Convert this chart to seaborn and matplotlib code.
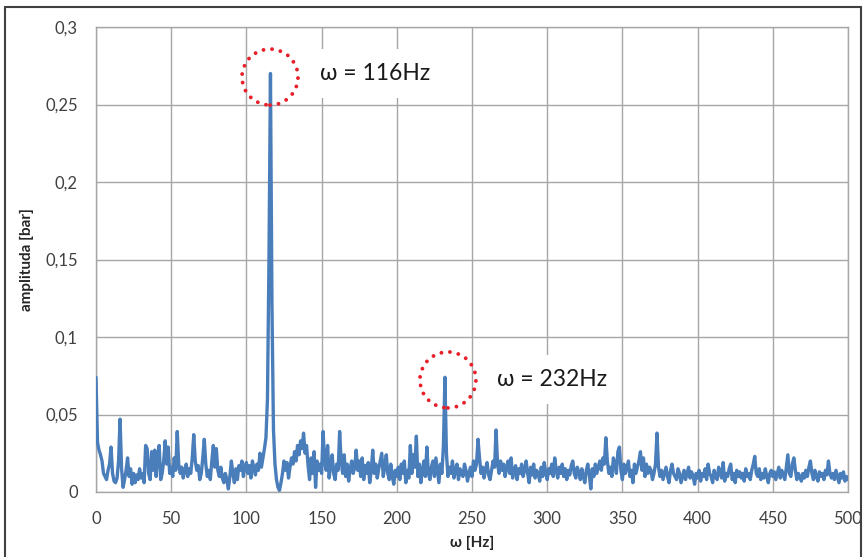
import numpy as np
import pandas as pd
import matplotlib
matplotlib.use("Agg")
import matplotlib.pyplot as plt
import seaborn as sns
from matplotlib.patches import Ellipse

# amplitude in thousandths of a bar, 1 Hz resolution, 0..500 Hz
amp_milli = [
    74, 32, 27, 24, 20, 12, 10, 8, 14, 18,
    29, 12, 7, 6, 9, 20, 47, 15, 3, 8,
    14, 22, 10, 15, 5, 12, 6, 11, 8, 15,
    9, 12, 6, 30, 28, 12, 8, 26, 14, 27,
    10, 24, 30, 8, 12, 20, 33, 18, 29, 12,
    16, 10, 22, 14, 39, 18, 12, 16, 9, 14,
    18, 10, 15, 12, 22, 37, 20, 14, 17, 8,
    12, 22, 34, 18, 10, 14, 8, 20, 30, 16,
    28, 14, 10, 16, 9, 6, 12, 8, 2, 10,
    20, 12, 6, 15, 8, 17, 14, 20, 10, 16,
    19, 12, 17, 9, 20, 15, 11, 18, 14, 25,
    16, 22, 28, 35, 60, 150, 270, 120, 40, 18,
    8, 3, 1, 6, 12, 20, 14, 19, 9, 16,
    22, 18, 26, 20, 30, 24, 33, 28, 38, 25,
    30, 17, 8, 22, 12, 26, 3, 20, 14, 18,
    12, 39, 20, 14, 30, 9, 17, 24, 12, 8,
    18, 14, 39, 20, 12, 24, 10, 18, 7, 15,
    20, 12, 16, 27, 14, 20, 10, 22, 8, 17,
    12, 19, 6, 14, 27, 12, 18, 9, 15, 20,
    25, 10, 16, 24, 12, 8, 18, 10, 5, 14,
    10, 16, 8, 18, 12, 20, 6, 14, 9, 30,
    12, 24, 16, 36, 10, 18, 6, 14, 20, 10,
    29, 12, 8, 16, 20, 10, 22, 14, 6, 18,
    12, 30, 74, 25, 10, 16, 12, 20, 9, 14,
    18, 8, 15, 12, 10, 18, 14, 7, 12, 16,
    10, 20, 14, 18, 34, 22, 12, 16, 9, 15,
    19, 11, 8, 14, 20, 16, 40, 18, 12, 20,
    14, 18, 10, 16, 20, 12, 22, 9, 14, 17,
    8, 15, 12, 18, 10, 14, 20, 12, 6, 16,
    11, 18, 9, 14, 12, 7, 16, 10, 19, 13,
    8, 15, 12, 18, 10, 22, 14, 9, 16, 12,
    18, 10, 15, 8, 14, 11, 17, 20, 12, 9,
    16, 13, 8, 15, 10, 6, 14, 18, 11, 2,
    15, 10, 18, 12, 16, 20, 14, 22, 18, 35,
    20, 12, 16, 10, 22, 18, 12, 26, 29, 14,
    8, 18, 12, 16, 20, 10, 14, 6, 18, 12,
    16, 20, 26, 14, 22, 10, 18, 12, 16, 14,
    8, 12, 18, 38, 16, 10, 14, 8, 12, 16,
    10, 6, 14, 18, 12, 10, 8, 15, 12, 6,
    10, 14, 8, 12, 16, 9, 13, 10, 5, 12,
    9, 14, 7, 12, 10, 15, 8, 18, 12, 10,
    6, 14, 10, 8, 16, 12, 9, 19, 7, 12,
    10, 15, 18, 8, 12, 6, 14, 10, 13, 9,
    12, 7, 15, 10, 12, 8, 14, 18, 23, 12,
    10, 15, 8, 12, 9, 15, 10, 6, 12, 14,
    10, 13, 8, 12, 16, 9, 14, 11, 8, 16,
    24, 12, 10, 18, 22, 14, 8, 12, 10, 7,
    12, 9, 14, 10, 16, 20, 12, 8, 14, 10,
    7, 13, 10, 12, 8, 14, 11, 20, 12, 9,
    12, 8, 14, 10, 6, 12, 9, 13, 7, 10,
    8,
]
freq_hz = list(range(len(amp_milli)))

x_ticks = [0, 50, 100, 150, 200, 250, 300, 350, 400, 450, 500]
y_ticks = [0, 0.05, 0.1, 0.15, 0.2, 0.25, 0.3]
y_tick_labels = ["0", "0,05", "0,1", "0,15", "0,2", "0,25", "0,3"]

peak_freqs = [116, 232]
peak_amps = [0.270, 0.074]
peak_texts = ["ω = 116Hz", "ω = 232Hz"]

df = pd.DataFrame({"freq": freq_hz, "amp": np.array(amp_milli) / 1000.0})

sns.set_style("white")
plt.rcParams["font.family"] = ["Lato", "DejaVu Sans"]

fig = plt.figure(figsize=(8.65, 5.57), dpi=100)
ax = fig.add_axes([96 / 865, 1 - 492 / 557, (848 - 96) / 865, (492 - 27) / 557])

sns.lineplot(data=df, x="freq", y="amp", ax=ax, color="#4a7ebb", linewidth=2.4, zorder=3)

ax.set_xlim(0, 500)
ax.set_ylim(0, 0.3)
ax.set_xticks(x_ticks)
ax.set_xticklabels([str(t) for t in x_ticks])
ax.set_yticks(y_ticks)
ax.set_yticklabels(y_tick_labels)
ax.grid(True, color="#a6a6a6", linewidth=1.0, zorder=0)
ax.set_axisbelow(True)
for s in ax.spines.values():
    s.set_color("#a6a6a6")
    s.set_linewidth(1.0)
ax.tick_params(axis="x", which="major", length=5, width=1.0, color="#a6a6a6",
               labelsize=12, labelcolor="#404040", direction="out", pad=9)
ax.tick_params(axis="y", which="major", length=5, width=1.0, color="#a6a6a6",
               labelsize=12, labelcolor="#404040", direction="out", pad=8)
ax.set_xlabel("ω [Hz]", fontsize=11, fontweight="bold", color="#262626", labelpad=6)
ax.set_ylabel("amplituda [bar]", fontsize=11, fontweight="bold", color="#262626", labelpad=8)

# annotations
text_pos = [(149, 0.270), (266.5, 0.0723)]
circle_centers = [(115.7, 0.2677), (234.0, 0.0723)]
for (tx, ty), txt in zip(text_pos, peak_texts):
    ax.text(tx, ty, txt, fontsize=16.5, color="#1a1a1a", va="center", ha="left", zorder=4,
            bbox=dict(facecolor="white", edgecolor="none", pad=10))
for (cx, cy) in circle_centers:
    e = Ellipse((cx, cy), width=56 / 1.504, height=56 / 1550, fill=False,
                edgecolor="#e8202a", linewidth=2.8, linestyle=(0, (0.01, 2.2)), zorder=6)
    e.set_capstyle("round")
    ax.add_patch(e)

# outer frame
fig.add_artist(plt.Line2D([5 / 865, 5 / 865], [0, 1 - 7 / 557], color="#404040", lw=1.5))
fig.add_artist(plt.Line2D([5 / 865, 861 / 865], [1 - 7 / 557, 1 - 7 / 557], color="#404040", lw=1.5))
fig.add_artist(plt.Line2D([861 / 865, 861 / 865], [0, 1 - 7 / 557], color="#404040", lw=1.5))

fig.savefig("out.png", dpi=100)
